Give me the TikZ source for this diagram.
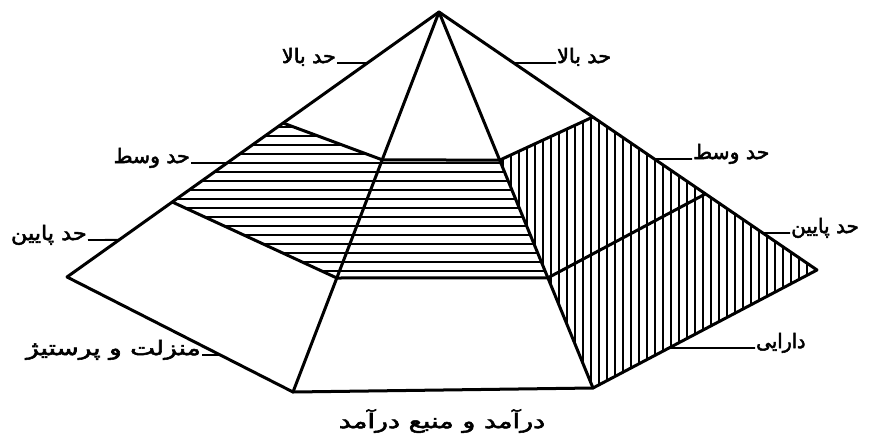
\documentclass[tikz,border=0pt]{standalone}
\usepackage{fontspec}
\TeXXeTstate=1
\newfontfamily\arabicfont[Script=Arabic,BoldFont={DejaVu Sans},BoldFeatures={FakeBold=2.5}]{DejaVu Sans}
\usetikzlibrary{calc}
\begin{document}
\begin{tikzpicture}[x=1pt,y=-1pt,
  edge/.style={line width=3pt, line join=round, line cap=round},
  hatch/.style={line width=2pt},
  lbl/.style={font=\arabicfont\bfseries\fontsize{20}{22}\selectfont, inner sep=1pt},
  leader/.style={line width=1.9pt}]
\useasboundingbox (0,0) rectangle (869,439);
% main vertices
\coordinate (A) at (439,12);
\coordinate (L) at (67,277);
\coordinate (FL) at (293,392);
\coordinate (FR) at (593,388);
\coordinate (R) at (817,270);
% band boundary points
\coordinate (Lt) at ($(A)!0.419!(L)$);
\coordinate (Lm) at ($(A)!0.717!(L)$);
\coordinate (It) at ($(A)!0.389!(FL)$);
\coordinate (Im) at ($(A)!0.700!(FL)$);
\coordinate (Jt) at ($(A)!0.394!(FR)$);
\coordinate (Jm) at ($(A)!0.707!(FR)$);
\coordinate (Rt) at ($(A)!0.407!(R)$);
\coordinate (Rm) at ($(A)!0.705!(R)$);
% hatching: middle band (horizontal lines)
\begin{scope}
  \clip (Lt) -- (It) -- (Jt) -- (Jm) -- (Im) -- (Lm) -- cycle;
  \foreach \y in {127,136,...,282} \draw[hatch] (150,\y) -- (560,\y);
\end{scope}
% hatching: right face (vertical lines)
\begin{scope}
  \clip (Jt) -- (Rt) -- (R) -- (FR) -- cycle;
  \foreach \x in {503,511,...,822} \draw[hatch] (\x,100) -- (\x,400);
\end{scope}
% edges
\draw[edge] (L) -- (A) -- (R);
\draw[edge] (L) -- (FL) -- (FR) -- (R);
\draw[edge] (A) -- (FL);
\draw[edge] (A) -- (FR);
\draw[edge] (Lt) -- (It) -- (Jt) -- (Rt);
\draw[edge] (Lm) -- (Im) -- (Jm) -- (Rm);
% leader end points on edges
\coordinate (eTopL) at ($(A)!0.1925!(L)$);
\coordinate (eTopR) at ($(A)!0.1977!(R)$);
\coordinate (eMidL) at ($(A)!0.570!(L)$);
\coordinate (eMidR) at ($(A)!0.5698!(R)$);
\coordinate (eLowL) at ($(A)!0.860!(L)$);
\coordinate (eLowR) at ($(A)!0.8566!(R)$);
\coordinate (eStat) at ($(L)!0.678!(FL)$);
\coordinate (eAss) at ($(FR)!0.339!(R)$);
% labels
\node[lbl, anchor=base east] (tTopL) at (337,63) {\scalebox{1.03}[1]{\beginR حد بالا\endR}};
\node[lbl, anchor=base west] (tTopR) at (556,63) {\scalebox{1.03}[1]{\beginR حد بالا\endR}};
\node[lbl, anchor=base east] (tMidL) at (191,163) {\scalebox{1.02}[1]{\beginR حد وسط\endR}};
\node[lbl, anchor=base west] (tMidR) at (692,159) {\scalebox{1.02}[1]{\beginR حد وسط\endR}};
\node[lbl, anchor=base east] (tLowL) at (88,240) {\scalebox{1.12}[1]{\beginR حد پایین\endR}};
\node[lbl, anchor=base west] (tLowR) at (790,233) {\scalebox{1.0}[1]{\beginR حد پایین\endR}};
\node[lbl, anchor=base east] (tStat) at (202,355) {\scalebox{1.32}[1]{\beginR منزلت و پرستیژ\endR}};
\node[lbl, anchor=base west] (tAss) at (755,348) {\scalebox{0.95}[1]{\beginR دارایی\endR}};
\node[lbl, anchor=base] (tInc) at (442,428) {\scalebox{1.35}[1]{\beginR درآمد و منبع درآمد\endR}};
% leaders
\draw[leader] (tTopL.base east) -- (eTopL);
\draw[leader] (tTopR.base west) -- (eTopR);
\draw[leader] (tMidL.base east) -- (eMidL);
\draw[leader] (tMidR.base west) -- (eMidR);
\draw[leader] (tLowL.base east) -- (eLowL);
\draw[leader] (tLowR.base west) -- (eLowR);
\draw[leader] (tStat.base east) -- (eStat);
\draw[leader] (tAss.base west) -- (eAss);
\end{tikzpicture}
\end{document}
